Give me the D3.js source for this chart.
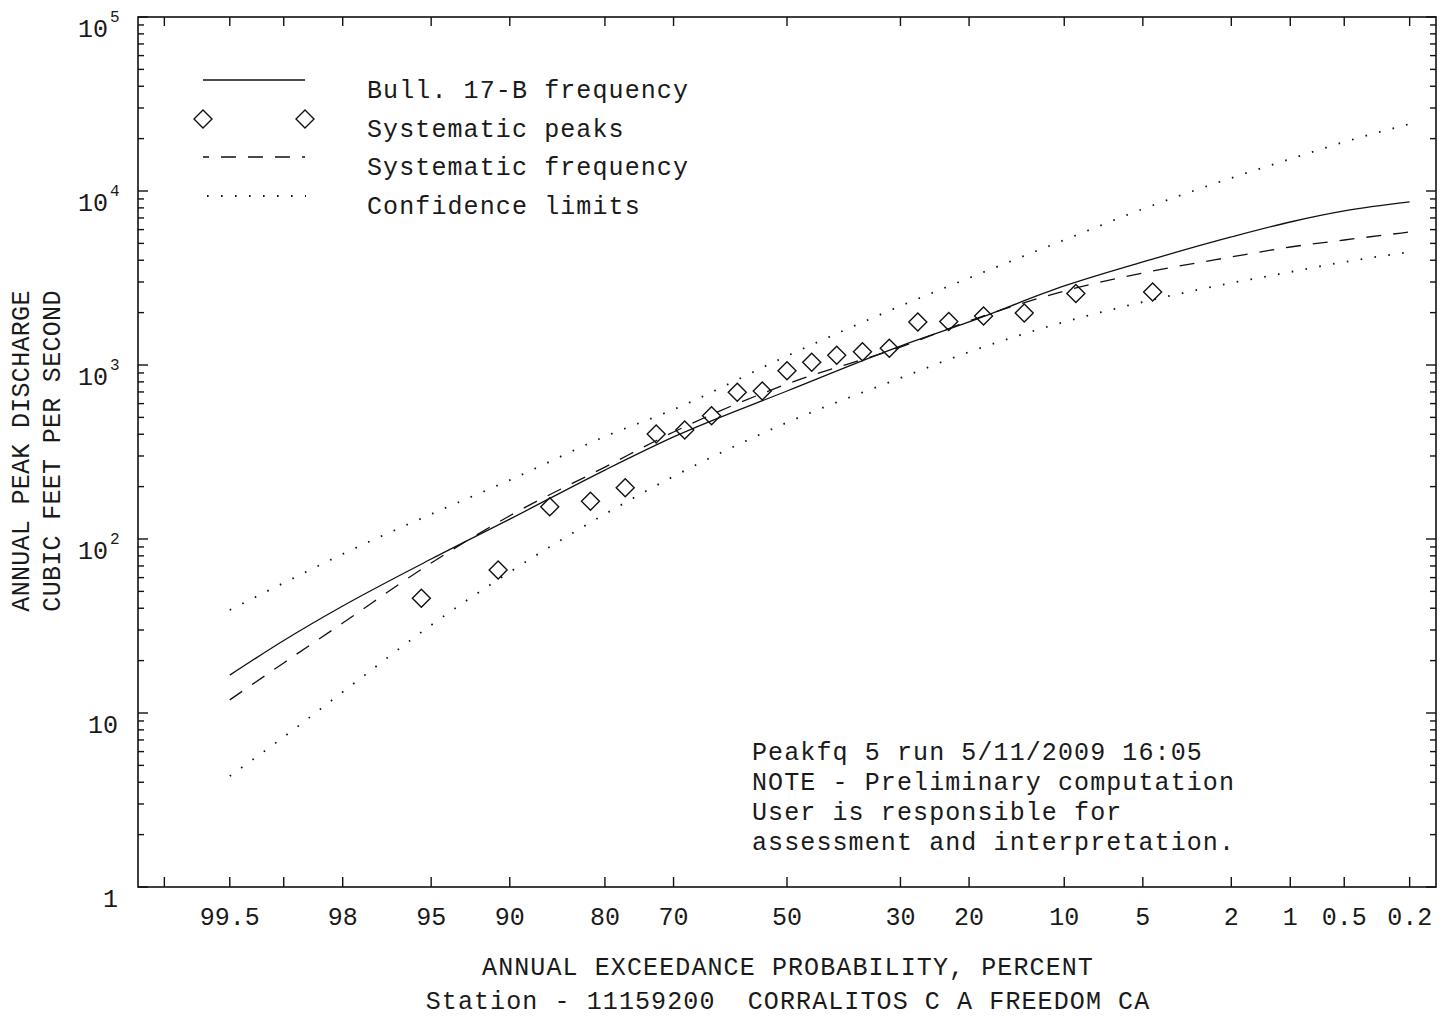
<!DOCTYPE html>
<html>
<head>
<meta charset="utf-8">
<script src="https://cdn.jsdelivr.net/npm/d3@7"></script>
<style>
  body { margin: 0; background: #fff; }
  text { font-family: "Liberation Mono", "DejaVu Sans Mono", monospace; fill: #1a1a1a; }
</style>
</head>
<body>
<script>
// exceedance probabilities (percent) where the curves were read
const curveProb = [99.5, 99, 98, 95, 90, 80, 70, 50, 30, 20, 10, 5, 2, 1, 0.5, 0.2];
const bull17B   = [16.5, 26.1, 41.2, 76.7, 130, 249, 386, 709, 1285, 1767, 2845, 3910, 5445, 6635, 7680, 8650];
const systFreq  = [11.9, 19.4, 32.9, 72.8, 136, 259, 412, 778, 1268, 1791, 2662, 3380, 4178, 4766, 5230, 5810];
const upperCL   = [39.1, 55.9, 82, 139, 218, 388, 555, 1127, 2183, 3162, 5230, 7880, 11880, 15280, 19130, 24270];
const lowerCL   = [4.34, 7.28, 13.2, 32.0, 64.6, 139, 229, 467, 842, 1188, 1767, 2301, 2959, 3423, 3910, 4460];

// systematic peaks: plotting position (percent) and discharge (cfs)
const peakProb = [95.45, 90.91, 86.36, 81.82, 77.27, 72.73, 68.18, 63.64, 59.09, 54.55, 50.0,
                  45.45, 40.91, 36.36, 31.82, 27.27, 22.73, 18.18, 13.64, 9.09, 4.55];
const peakQ    = [45.6, 66.4, 153, 165, 197, 401, 423, 511, 697, 709, 927,
                  1036, 1137, 1192, 1247, 1766, 1780, 1915, 1990, 2573, 2630];

const xTickProb  = [99.8, 99.5, 99, 98, 95, 90, 80, 70, 50, 30, 20, 10, 5, 2, 1, 0.5, 0.2];
const xTickLabel = ["", "99.5", "", "98", "95", "90", "80", "70", "50", "30", "20", "10", "5", "2", "1", "0.5", "0.2"];
const yDecades   = [1, 10, 100, 1000, 10000, 100000];

const W = 1451, H = 1020;
const pLeft = 138, pRight = 1436, pTop = 17, pBottom = 887;

// inverse standard normal (Acklam)
function probit(p) {
  const a = [-3.969683028665376e+01, 2.209460984245205e+02, -2.759285104469687e+02, 1.383577518672690e+02, -3.066479806614716e+01, 2.506628277459239e+00];
  const b = [-5.447609879822406e+01, 1.615858368580409e+02, -1.556989798598866e+02, 6.680131188771972e+01, -1.328068155288572e+01];
  const c = [-7.784894002430293e-03, -3.223964580411365e-01, -2.400758277161838e+00, -2.549671010233520e+00, 4.374664141464968e+00, 2.938163982698783e+00];
  const d = [7.784695709041462e-03, 3.224671290700398e-01, 2.445134137142996e+00, 3.754408661907416e+00];
  const pl = 0.02425;
  let q, r;
  if (p < pl) {
    q = Math.sqrt(-2 * Math.log(p));
    return (((((c[0]*q+c[1])*q+c[2])*q+c[3])*q+c[4])*q+c[5]) / ((((d[0]*q+d[1])*q+d[2])*q+d[3])*q+1);
  } else if (p <= 1 - pl) {
    q = p - 0.5; r = q * q;
    return (((((a[0]*r+a[1])*r+a[2])*r+a[3])*r+a[4])*r+a[5])*q / (((((b[0]*r+b[1])*r+b[2])*r+b[3])*r+b[4])*r+1);
  } else {
    q = Math.sqrt(-2 * Math.log(1 - p));
    return -(((((c[0]*q+c[1])*q+c[2])*q+c[3])*q+c[4])*q+c[5]) / ((((d[0]*q+d[1])*q+d[2])*q+d[3])*q+1);
  }
}

const zScale = d3.scaleLinear().domain([-3, 3]).range([pLeft, pRight]);
const x = pct => zScale(probit(1 - pct / 100));
const y = d3.scaleLog().domain([1, 1e5]).range([pBottom, pTop]);

const svg = d3.select("body").append("svg")
  .attr("width", W)
  .attr("height", H)
  .style("background", "#fff");

// frame
svg.append("rect")
  .attr("x", pLeft).attr("y", pTop)
  .attr("width", pRight - pLeft).attr("height", pBottom - pTop)
  .attr("fill", "none").attr("stroke", "#111").attr("stroke-width", 1.6);

// x ticks (bottom and top, pointing inward)
const xt = svg.append("g").attr("stroke", "#111").attr("stroke-width", 1.4);
xTickProb.forEach(p => {
  xt.append("line").attr("x1", x(p)).attr("x2", x(p)).attr("y1", pBottom).attr("y2", pBottom - 10);
  xt.append("line").attr("x1", x(p)).attr("x2", x(p)).attr("y1", pTop).attr("y2", pTop + 9);
});
svg.append("g").selectAll("text")
  .data(xTickProb.map((p, i) => ({ p, label: xTickLabel[i] })).filter(d => d.label))
  .join("text")
  .attr("x", d => x(d.p))
  .attr("y", 925)
  .attr("text-anchor", "middle")
  .style("font-size", "25px")
  .text(d => d.label);

// y ticks (left and right), major and minor
const yt = svg.append("g").attr("stroke", "#111").attr("stroke-width", 1.4);
yDecades.forEach((dec, i) => {
  if (i < yDecades.length - 1) {
    d3.range(2, 10).forEach(m => {
      const yy = y(dec * m);
      yt.append("line").attr("x1", pLeft).attr("x2", pLeft + 6).attr("y1", yy).attr("y2", yy);
      yt.append("line").attr("x1", pRight).attr("x2", pRight - 6).attr("y1", yy).attr("y2", yy);
    });
  }
  const yy = y(dec);
  yt.append("line").attr("x1", pLeft).attr("x2", pLeft + 10).attr("y1", yy).attr("y2", yy);
  yt.append("line").attr("x1", pRight).attr("x2", pRight - 10).attr("y1", yy).attr("y2", yy);
});

// y tick labels
yDecades.forEach(dec => {
  const e = Math.round(Math.log10(dec));
  const yy = y(dec);
  if (e >= 2) {
    svg.append("text").attr("x", 108).attr("y", yy + 20)
      .attr("text-anchor", "end").style("font-size", "25px").text("10");
    svg.append("text").attr("x", 110).attr("y", yy + 5)
      .style("font-size", "16px").text(e);
  } else {
    svg.append("text").attr("x", 118).attr("y", yy + 20)
      .attr("text-anchor", "end").style("font-size", "25px").text(dec);
  }
});

// curves
const line = d3.line()
  .x(d => x(d[0]))
  .y(d => y(d[1]))
  .curve(d3.curveMonotoneX);

function drawCurve(vals, dash) {
  svg.append("path")
    .datum(curveProb.map((p, i) => [p, vals[i]]))
    .attr("d", line)
    .attr("fill", "none")
    .attr("stroke", "#111")
    .attr("stroke-width", dash === "dot" ? 1.8 : 1.3)
    .attr("stroke-dasharray", dash === "dash" ? "15,12" : dash === "dot" ? "1.6,12.4" : null);
}
drawCurve(upperCL, "dot");
drawCurve(lowerCL, "dot");
drawCurve(systFreq, "dash");
drawCurve(bull17B, null);

// systematic peaks
const diamond = "M0,-9L9,0L0,9L-9,0Z";
svg.append("g").selectAll("path")
  .data(peakProb.map((p, i) => [p, peakQ[i]]))
  .join("path")
  .attr("d", diamond)
  .attr("transform", d => `translate(${x(d[0])},${y(d[1])})`)
  .attr("fill", "none")
  .attr("stroke", "#111")
  .attr("stroke-width", 1.4);

// legend
const legendItems = ["Bull. 17-B frequency", "Systematic peaks", "Systematic frequency", "Confidence limits"];
const lg = svg.append("g");
const rowY = [80, 119, 157, 196];
lg.append("line").attr("x1", 203).attr("x2", 305).attr("y1", rowY[0]).attr("y2", rowY[0])
  .attr("stroke", "#111").attr("stroke-width", 1.3);
[203, 305].forEach(cx => lg.append("path").attr("d", diamond)
  .attr("transform", `translate(${cx},${rowY[1]})`)
  .attr("fill", "none").attr("stroke", "#111").attr("stroke-width", 1.4));
lg.append("line").attr("x1", 203).attr("x2", 305).attr("y1", rowY[2]).attr("y2", rowY[2])
  .attr("stroke", "#111").attr("stroke-width", 1.3)
  .attr("stroke-dasharray", "15,12").attr("stroke-dashoffset", 9);
lg.append("line").attr("x1", 207).attr("x2", 306).attr("y1", rowY[3]).attr("y2", rowY[3])
  .attr("stroke", "#111").attr("stroke-width", 1.8)
  .attr("stroke-dasharray", "1.6,12.4");
legendItems.forEach((t, i) => {
  lg.append("text").attr("x", 367).attr("y", rowY[i] + 18)
    .style("font-size", "25px").style("letter-spacing", "1.1px").text(t);
});

// note
const note = ["Peakfq 5 run 5/11/2009 16:05", "NOTE - Preliminary computation",
              "User is responsible for", "assessment and interpretation."];
note.forEach((t, i) => {
  svg.append("text").attr("x", 752).attr("y", 760 + i * 30)
    .style("font-size", "25px").style("letter-spacing", "1.1px").text(t);
});

// axis titles
svg.append("text").attr("x", 788).attr("y", 975).attr("text-anchor", "middle")
  .style("font-size", "25px").style("letter-spacing", "1.1px")
  .text("ANNUAL EXCEEDANCE PROBABILITY, PERCENT");
svg.append("text").attr("x", 788).attr("y", 1009).attr("text-anchor", "middle")
  .style("font-size", "25px").style("letter-spacing", "1.1px").style("white-space", "pre")
  .text("Station - 11159200  CORRALITOS C A FREEDOM CA");

[["ANNUAL PEAK DISCHARGE", 29], ["CUBIC FEET PER SECOND", 60]].forEach(([t, xx]) => {
  svg.append("text")
    .attr("transform", `translate(${xx},451) rotate(-90)`)
    .attr("text-anchor", "middle")
    .style("font-size", "25px").style("letter-spacing", "0.3px")
    .text(t);
});
</script>
</body>
</html>
